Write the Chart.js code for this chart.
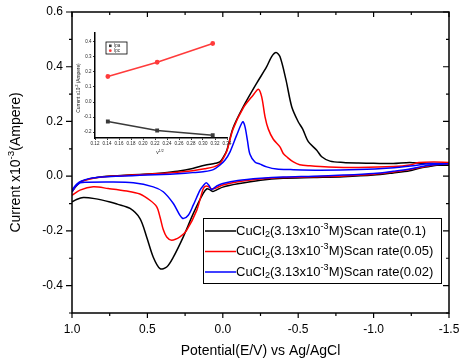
<!DOCTYPE html>
<html>
<head>
<meta charset="utf-8">
<script src="https://cdn.jsdelivr.net/npm/chart.js@4.4.1/dist/chart.umd.min.js"></script>
<style>
  html, body { margin: 0; padding: 0; background: #fff; }
  #wrap { position: relative; width: 460px; height: 363px; }
  #main { position: absolute; left: 0; top: 0; }
  #inset { position: absolute; left: 70px; top: 25px; }
</style>
</head>
<body>
<div id="wrap">
  <canvas id="main" width="460" height="363"></canvas>
  <canvas id="inset" width="170" height="140"></canvas>
</div>
<script>
const FONT = '"Liberation Sans", Arial, sans-serif';

// scan rates and colours (black, red, blue)
const scanRates = ['0.1', '0.05', '0.02'];
const colors = ['#000000', '#ff0000', '#0000ff'];

// axis ticks
const xTicks = [1.0, 0.5, 0.0, -0.5, -1.0, -1.5];
const xMinorTicks = [1.0, 0.75, 0.5, 0.25, 0.0, -0.25, -0.5, -0.75, -1.0, -1.25, -1.5];
const yTicks = [-0.4, -0.2, 0.0, 0.2, 0.4, 0.6];
const yMinorTicks = [-0.5, -0.3, -0.1, 0.1, 0.3, 0.5];

// potential (V) / current (x10^-3 A): forward branch then return branch
const blackE = [1.0, 0.97, 0.94, 0.88, 0.80, 0.70, 0.60, 0.50, 0.40, 0.30, 0.20, 0.12, 0.05, 0.02, 0.0, -0.027, -0.068, -0.136, -0.225, -0.291, -0.324, -0.353, -0.379, -0.419, -0.457, -0.50, -0.53, -0.567, -0.623, -0.656, -0.711, -0.80, -0.90, -1.00, -1.13, -1.24, -1.33, -1.42, -1.50,
  -1.50, -1.42, -1.37, -1.31, -1.24, -1.13, -1.00, -0.80, -0.60, -0.40, -0.25, -0.10, 0.0, 0.04, 0.065, 0.085, 0.105, 0.13, 0.196, 0.262, 0.328, 0.372, 0.416, 0.461, 0.505, 0.549, 0.615, 0.70, 0.748, 0.85, 0.925, 0.97, 1.0];
const blackI = [-0.057, -0.035, -0.02, -0.009, -0.002, 0.002, 0.005, 0.008, 0.012, 0.018, 0.028, 0.040, 0.047, 0.052, 0.066, 0.095, 0.176, 0.254, 0.34, 0.40, 0.437, 0.452, 0.437, 0.352, 0.254, 0.199, 0.172, 0.126, 0.095, 0.071, 0.055, 0.050, 0.048, 0.047, 0.046, 0.050, 0.046, 0.045, 0.045,
  0.040, 0.040, 0.035, 0.030, 0.020, 0.012, 0.004, -0.002, -0.005, -0.008, -0.015, -0.028, -0.040, -0.05, -0.056, -0.05, -0.046, -0.063, -0.137, -0.222, -0.296, -0.332, -0.338, -0.296, -0.222, -0.155, -0.118, -0.102, -0.094, -0.082, -0.078, -0.085, -0.094];

const redE = [1.0, 0.97, 0.94, 0.88, 0.80, 0.70, 0.60, 0.50, 0.40, 0.30, 0.20, 0.12, 0.06, 0.02, 0.0, -0.027, -0.068, -0.136, -0.202, -0.236, -0.258, -0.28, -0.302, -0.335, -0.379, -0.401, -0.43, -0.468, -0.51, -0.578, -0.70, -0.90, -1.13, -1.25, -1.30, -1.40, -1.50,
  -1.50, -1.42, -1.37, -1.31, -1.24, -1.13, -1.00, -0.80, -0.60, -0.40, -0.25, -0.10, 0.0, 0.04, 0.07, 0.09, 0.11, 0.129, 0.173, 0.24, 0.284, 0.339, 0.372, 0.395, 0.416, 0.438, 0.483, 0.55, 0.637, 0.76, 0.859, 0.947, 1.0];
const redI = [-0.055, -0.033, -0.02, -0.01, -0.003, 0.001, 0.004, 0.007, 0.010, 0.014, 0.020, 0.027, 0.034, 0.045, 0.062, 0.092, 0.172, 0.25, 0.297, 0.318, 0.29, 0.217, 0.172, 0.135, 0.107, 0.083, 0.068, 0.052, 0.042, 0.038, 0.034, 0.032, 0.035, 0.042, 0.050, 0.052, 0.050,
  0.045, 0.043, 0.038, 0.032, 0.024, 0.015, 0.007, 0.001, -0.002, -0.005, -0.010, -0.020, -0.032, -0.042, -0.047, -0.040, -0.036, -0.045, -0.125, -0.198, -0.222, -0.234, -0.222, -0.195, -0.15, -0.112, -0.088, -0.065, -0.054, -0.045, -0.039, -0.051, -0.07];

const blueE = [1.0, 0.97, 0.94, 0.88, 0.80, 0.70, 0.60, 0.50, 0.40, 0.30, 0.20, 0.12, 0.063, 0.02, -0.015, -0.048, -0.092, -0.132, -0.147, -0.163, -0.18, -0.213, -0.247, -0.291, -0.357, -0.45, -0.645, -0.90, -1.11, -1.286, -1.37, -1.50,
  -1.50, -1.42, -1.37, -1.31, -1.24, -1.13, -1.00, -0.80, -0.60, -0.40, -0.25, -0.10, 0.0, 0.04, 0.075, 0.09, 0.11, 0.13, 0.151, 0.196, 0.229, 0.262, 0.284, 0.328, 0.395, 0.461, 0.593, 0.748, 0.90, 0.947, 0.98, 1.0];
const blueI = [-0.05, -0.03, -0.018, -0.008, -0.003, 0.0, 0.002, 0.004, 0.006, 0.009, 0.013, 0.017, 0.024, 0.04, 0.059, 0.089, 0.15, 0.199, 0.181, 0.132, 0.08, 0.052, 0.044, 0.034, 0.026, 0.024, 0.022, 0.024, 0.030, 0.040, 0.046, 0.045,
  0.045, 0.043, 0.040, 0.034, 0.026, 0.018, 0.010, 0.004, 0.0, -0.003, -0.008, -0.016, -0.027, -0.036, -0.049, -0.035, -0.024, -0.035, -0.051, -0.106, -0.143, -0.155, -0.143, -0.10, -0.057, -0.039, -0.024, -0.021, -0.022, -0.024, -0.04, -0.058];

// inset: peak current vs square root of scan rate
const insetV = [0.1414, 0.2236, 0.3162];
const ipa = [-0.13, -0.19, -0.222];
const ipc = [0.17, 0.265, 0.39];
const insetXTicks = [0.12, 0.14, 0.16, 0.18, 0.20, 0.22, 0.24, 0.26, 0.28, 0.30, 0.32, 0.34];
const insetYTicks = [-0.2, -0.1, 0.0, 0.1, 0.2, 0.3, 0.4];

function pts(xs, ys) {
  return xs.map((v, i) => ({ x: v, y: ys[i] }));
}

// no extra room for overflowing tick labels, the layout padding decides
function noPad(s) {
  s.paddingLeft = 0; s.paddingRight = 0; s.paddingTop = 0; s.paddingBottom = 0;
}

// text with sub/superscripts: parts = [[text, 0|1|-1], ...]
function richWidth(ctx, parts, size) {
  let w = 0;
  parts.forEach(p => {
    ctx.font = (p[1] ? size * 0.7 : size) + 'px ' + FONT;
    w += ctx.measureText(p[0]).width;
  });
  return w;
}
function drawRich(ctx, parts, x, y, size, center) {
  let cx = center ? x - richWidth(ctx, parts, size) / 2 : x;
  ctx.textAlign = 'left';
  ctx.textBaseline = 'middle';
  parts.forEach(p => {
    const s = p[1] ? size * 0.7 : size;
    ctx.font = s + 'px ' + FONT;
    const dy = p[1] === 1 ? -size * 0.35 : p[1] === -1 ? size * 0.3 : 0;
    ctx.fillText(p[0], cx, y + dy);
    cx += ctx.measureText(p[0]).width;
  });
}
function seriesLabel(rate) {
  return [['CuCl', 0], ['2', -1], ['(3.13x10', 0], ['-3', 1], ['M)Scan rate(' + rate + ')', 0]];
}

const framePlugin = {
  id: 'frame',
  afterDatasetsDraw(chart) {
    const { ctx, chartArea: a, scales: { x, y } } = chart;
    ctx.save();
    ctx.strokeStyle = '#000';
    ctx.lineWidth = 1.5;
    ctx.strokeRect(a.left, a.top, a.right - a.left, a.bottom - a.top);
    ctx.lineWidth = 1.2;
    ctx.beginPath();
    xMinorTicks.forEach(v => {
      const px = x.getPixelForValue(v);
      const l = xTicks.includes(v) ? 5 : 3;
      ctx.moveTo(px, a.bottom); ctx.lineTo(px, a.bottom + l);
      ctx.moveTo(px, a.top); ctx.lineTo(px, a.top + l);
    });
    yTicks.concat(yMinorTicks).forEach(v => {
      const py = y.getPixelForValue(v);
      const l = yTicks.includes(v) ? 6 : 3;
      ctx.moveTo(a.left, py); ctx.lineTo(a.left - l, py);
      ctx.moveTo(a.right, py); ctx.lineTo(a.right - l, py);
    });
    ctx.stroke();

    // axis titles
    ctx.fillStyle = '#000';
    drawRich(ctx, [['Potential(E/V) vs Ag/AgCl', 0]], (a.left + a.right) / 2, 351, 14, true);
    ctx.save();
    ctx.translate(16, (a.top + a.bottom) / 2);
    ctx.rotate(-Math.PI / 2);
    drawRich(ctx, [['Current x10', 0], ['-3', 1], ['(Ampere)', 0]], 0, 0, 14, true);
    ctx.restore();

    // legend
    const lx = 203, ly = 218, lw = 238, lh = 65;
    ctx.fillStyle = '#fff';
    ctx.fillRect(lx, ly, lw, lh);
    ctx.lineWidth = 1;
    ctx.strokeStyle = '#000';
    ctx.strokeRect(lx + 0.5, ly + 0.5, lw, lh);
    scanRates.forEach((r, i) => {
      const yy = 231 + i * 20.5;
      ctx.strokeStyle = colors[i];
      ctx.lineWidth = 1.5;
      ctx.beginPath();
      ctx.moveTo(lx + 2, yy); ctx.lineTo(lx + 33, yy);
      ctx.stroke();
      ctx.fillStyle = '#000';
      drawRich(ctx, seriesLabel(r), lx + 33, yy, 13, false);
    });
    ctx.restore();
  }
};

const allE = [blackE, redE, blueE];
const allI = [blackI, redI, blueI];

new Chart(document.getElementById('main'), {
  type: 'scatter',
  data: {
    datasets: scanRates.map((r, i) => ({
      label: 'Scan rate(' + r + ')',
      data: pts(allE[i], allI[i]),
      showLine: true,
      borderColor: colors[i],
      borderWidth: 1.5,
      pointRadius: 0,
      tension: 0.3,
      order: 2 - i
    }))
  },
  options: {
    responsive: false,
    animation: false,
    layout: { padding: { left: 0, top: 12, right: 11, bottom: 0 } },
    plugins: { legend: { display: false }, tooltip: { enabled: false } },
    scales: {
      x: {
        type: 'linear', reverse: true, min: -1.5, max: 1.0,
        afterBuildTicks: s => { s.ticks = xTicks.map(v => ({ value: v })); },
        afterFit: s => { s.height = 50; noPad(s); },
        grid: { display: false, drawTicks: false },
        border: { display: false },
        ticks: { color: '#000', padding: 9, maxRotation: 0, autoSkip: false,
          font: { family: FONT, size: 12 }, callback: v => v.toFixed(1) }
      },
      y: {
        type: 'linear', min: -0.5, max: 0.6,
        afterBuildTicks: s => { s.ticks = yTicks.map(v => ({ value: v })); },
        afterFit: s => { s.width = 72; noPad(s); },
        grid: { display: false, drawTicks: false },
        border: { display: false },
        ticks: { color: '#000', padding: 9, font: { family: FONT, size: 12 },
          callback: v => v.toFixed(1) }
      }
    }
  },
  plugins: [framePlugin]
});

const insetPlugin = {
  id: 'insetText',
  afterDraw(chart) {
    const { ctx, chartArea: a } = chart;
    ctx.save();
    ctx.fillStyle = '#222';
    ctx.save();
    ctx.translate(9, 63);
    ctx.rotate(-Math.PI / 2);
    drawRich(ctx, [['Current x10', 0], ['-3', 1], [' (Ampere)', 0]], 0, 0, 4.8, true);
    ctx.restore();
    drawRich(ctx, [['v', 0], ['1/2', 1]], (a.left + a.right) / 2 - 1, 128, 5, true);

    // small legend
    const lx = 36, ly = 17;
    ctx.strokeStyle = '#000';
    ctx.lineWidth = 0.8;
    ctx.strokeRect(lx, ly, 21, 12);
    ctx.fillStyle = '#3a3a3a';
    ctx.fillRect(lx + 3, ly + 2.5, 2.6, 2.6);
    ctx.fillStyle = '#ff3b3b';
    ctx.beginPath(); ctx.arc(lx + 4.3, ly + 8.7, 1.4, 0, Math.PI * 2); ctx.fill();
    ctx.fillStyle = '#222';
    drawRich(ctx, [['Ipa', 0]], lx + 8, ly + 3.8, 4.5, false);
    drawRich(ctx, [['Ipc', 0]], lx + 8, ly + 8.7, 4.5, false);
    ctx.restore();
  }
};

const insetFont = { family: FONT, size: 4.5 };
new Chart(document.getElementById('inset'), {
  type: 'scatter',
  data: {
    datasets: [
      { label: 'Ipa', data: pts(insetV, ipa), showLine: true, borderColor: '#3a3a3a', backgroundColor: '#3a3a3a',
        borderWidth: 1.6, pointStyle: 'rect', pointRadius: 1.6 },
      { label: 'Ipc', data: pts(insetV, ipc), showLine: true, borderColor: '#ff3b3b', backgroundColor: '#ff3b3b',
        borderWidth: 1.6, pointStyle: 'circle', pointRadius: 1.6 }
    ]
  },
  options: {
    responsive: false,
    animation: false,
    layout: { padding: { left: 0, top: 8, right: 13, bottom: 0 } },
    plugins: { legend: { display: false }, tooltip: { enabled: false } },
    scales: {
      x: {
        type: 'linear', min: 0.12, max: 0.34,
        afterBuildTicks: s => { s.ticks = insetXTicks.map(v => ({ value: v })); },
        afterFit: s => { s.height = 27; noPad(s); },
        grid: { drawOnChartArea: false, drawTicks: true, tickLength: 2, color: '#000', lineWidth: 0.8 },
        border: { color: '#000', width: 1.5 },
        ticks: { color: '#222', padding: 1.5, maxRotation: 0, autoSkip: false, font: insetFont,
          callback: v => v.toFixed(2) }
      },
      y: {
        type: 'linear', min: -0.24, max: 0.46,
        afterBuildTicks: s => { s.ticks = insetYTicks.map(v => ({ value: v })); },
        afterFit: s => { s.width = 25; noPad(s); },
        grid: { drawOnChartArea: false, drawTicks: true, tickLength: 2, color: '#000', lineWidth: 0.8 },
        border: { color: '#000', width: 1.5 },
        ticks: { color: '#222', padding: 1.5, font: insetFont, callback: v => v.toFixed(1) }
      }
    }
  },
  plugins: [insetPlugin]
});
</script>
</body>
</html>
